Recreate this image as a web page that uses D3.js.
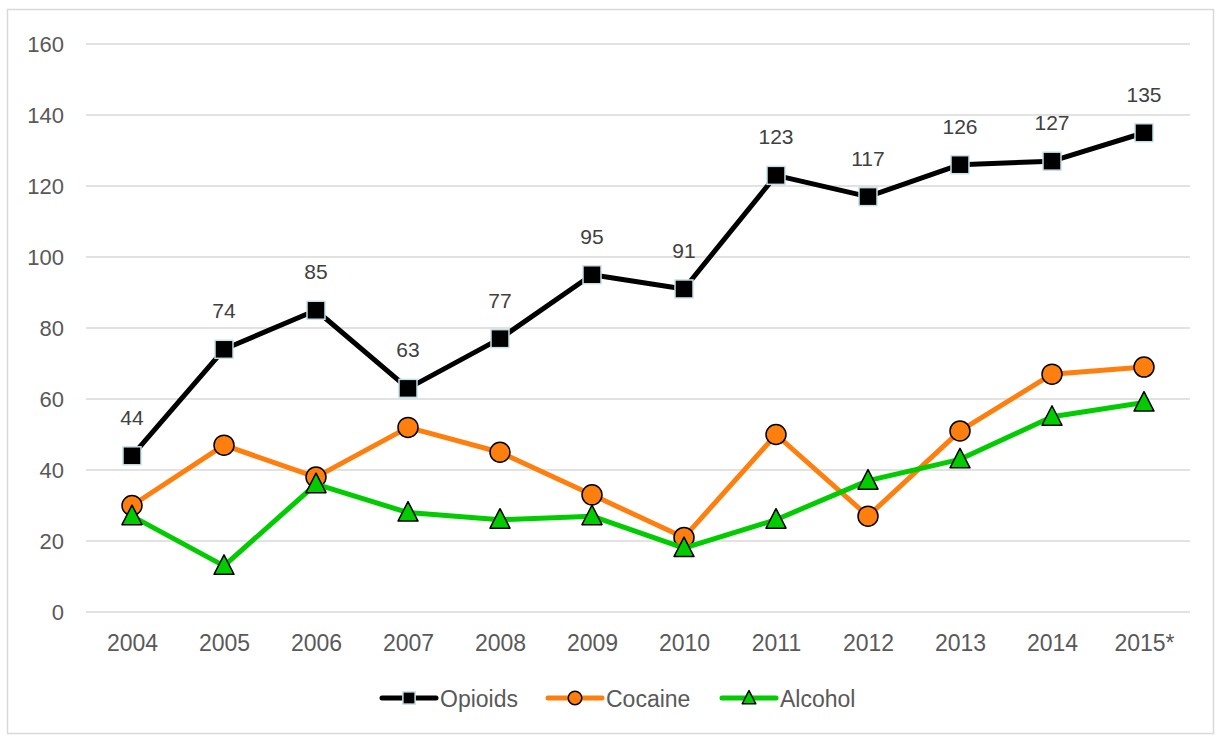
<!DOCTYPE html>
<html><head><meta charset="utf-8">
<script src="https://cdn.jsdelivr.net/npm/d3@7"></script>
<style>body{margin:0;background:#fff;}svg text{font-family:"Liberation Sans",Arial,sans-serif;}</style>
</head><body><svg id="c" width="1221" height="738"></svg>
<script>
const years = ["2004","2005","2006","2007","2008","2009","2010","2011","2012","2013","2014","2015*"];
const opioids = [44,74,85,63,77,95,91,123,117,126,127,135];
const cocaine = [30,47,38,52,45,33,21,50,27,51,67,69];
const alcohol = [27,13,36,28,26,27,18,26,37,43,55,59];
const yTicks = [0,20,40,60,80,100,120,140,160];

const svg = d3.select("#c");
svg.append("rect").attr("x",7.5).attr("y",9.5).attr("width",1206).attr("height",724)
  .attr("fill","#fff").attr("stroke","#d9d9d9").attr("stroke-width",1.5);

const x = d3.scalePoint().domain(years).range([86,1190]).padding(0.5);
const y = d3.scaleLinear().domain([0,160]).range([612,44]);

const g = svg.append("g");
g.selectAll("line.grid").data(yTicks).join("line")
  .attr("x1",86).attr("x2",1190).attr("y1",d=>y(d)).attr("y2",d=>y(d))
  .attr("stroke","#d9d9d9").attr("stroke-width",1.5);

const yAxis = svg.append("g").attr("transform","translate(86,0)")
  .call(d3.axisLeft(y).tickValues(yTicks).tickSize(0).tickPadding(22));
yAxis.select(".domain").remove();
yAxis.selectAll("text").attr("font-size",22).attr("fill","#595959");

const xAxis = svg.append("g").attr("transform","translate(0,612)")
  .call(d3.axisBottom(x).tickSize(0).tickPadding(23));
xAxis.select(".domain").remove();
xAxis.selectAll("text").attr("font-size",23).attr("fill","#595959");

const series = [
  {name:"Opioids",vals:opioids,color:"#000000",marker:"square"},
  {name:"Cocaine",vals:cocaine,color:"#ff7f0e",marker:"circle"},
  {name:"Alcohol",vals:alcohol,color:"#00cc00",marker:"triangle"}
];
const line = d3.line().x((d,i)=>x(years[i])).y(d=>y(d));

function drawMarker(sel, s, k){
  if(s.marker==="square"){
    const h = 9*k;
    sel.append("rect").attr("x",-h).attr("y",-h).attr("width",2*h).attr("height",2*h)
      .attr("fill","#000").attr("stroke","#c6e2e8").attr("stroke-width",1.5);
  } else if(s.marker==="circle"){
    sel.append("circle").attr("r",10*k).attr("fill","#ff7f0e").attr("stroke","#000").attr("stroke-width",1.5);
  } else {
    sel.append("path").attr("d",`M0,${-11*k}L${10*k},${8.5*k}L${-10*k},${8.5*k}Z`).attr("fill","#00cc00")
      .attr("stroke","#000").attr("stroke-width",1.5).attr("stroke-linejoin","round");
  }
}

series.forEach(s=>{
  svg.append("path").datum(s.vals).attr("d",line).attr("fill","none")
    .attr("stroke",s.color).attr("stroke-width",5).attr("stroke-linejoin","round");
  s.vals.forEach((v,i)=>{
    const m = svg.append("g").attr("transform",`translate(${x(years[i])},${y(v)})`);
    drawMarker(m,s,1);
  });
});

svg.append("g").selectAll("text").data(opioids).join("text")
  .attr("x",(d,i)=>x(years[i])).attr("y",d=>y(d)-31)
  .attr("text-anchor","middle").attr("font-size",21).attr("fill","#404040")
  .text(d=>d);

const legX = [382,548,722];
series.forEach((s,i)=>{
  const lg = svg.append("g").attr("transform",`translate(${legX[i]},698)`);
  lg.append("line").attr("x1",0).attr("x2",54).attr("stroke",s.color).attr("stroke-width",5).attr("stroke-linecap","round");
  const m = lg.append("g").attr("transform","translate(27,0)");
  drawMarker(m,s,0.68);
  lg.append("text").attr("x",58).attr("y",9).attr("font-size",23).attr("fill","#595959").text(s.name);
});
</script></body></html>
